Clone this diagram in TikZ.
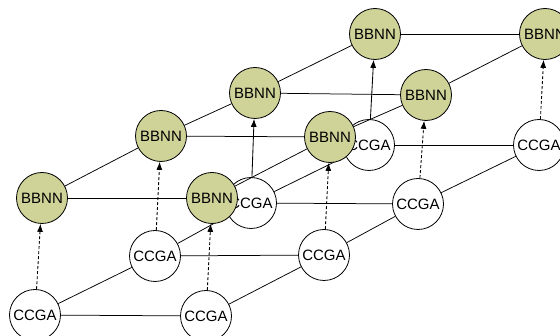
\documentclass[tikz,border=0pt]{standalone}
\usepackage{fontspec}
\setmainfont{Liberation Sans}
\usetikzlibrary{arrows.meta}
\definecolor{bbnnfill}{RGB}{208,211,152}
\pgfdeclarelayer{back}
\pgfdeclarelayer{mid}
\pgfsetlayers{back,mid,main}
\tikzset{
  unit/.style={circle, draw=black, line width=0.8pt, minimum size=51pt,
    inner sep=0pt, font=\fontsize{15}{17}\selectfont},
  ccga/.style={unit, fill=white},
  bbnn/.style={unit, fill=bbnnfill},
  link/.style={draw=black, line width=0.75pt},
  feed/.style={link, line width=0.85pt, -{Latex[length=8pt,width=6pt]}},
  feeddash/.style={feed, dash pattern=on 3pt off 2pt},
}
\begin{document}
\begin{tikzpicture}[x=1pt,y=-1pt]
\useasboundingbox (0,0) rectangle (560,336);
\clip (0,0) rectangle (560,336);

% upper layer of BBNN units
\node[bbnn] (b1) at (42,198) {BBNN};
\node[bbnn] (b2) at (212,198) {BBNN};
\node[bbnn] (b3) at (161,136) {BBNN};
\node[bbnn] (b4) at (330,137) {BBNN};
\node[bbnn] (b5) at (255,93) {BBNN};
\node[bbnn] (b6) at (426,95) {BBNN};
\node[bbnn] (b7) at (375,34) {BBNN};
\node[bbnn] (b8) at (545,34) {BBNN};

% lower layer of CCGA units
\begin{pgfonlayer}{back}
\node[ccga] (c1) at (35,315) {CCGA};
\node[ccga] (c2) at (206,316) {CCGA};
\node[ccga] (c3) at (155,256) {CCGA};
\node[ccga] (c4) at (324,255) {CCGA};
\node[ccga] (c5) at (251,203) {CCGA};
\node[ccga] (c6) at (418,204) {CCGA};
\node[ccga] (c7) at (369,145) {CCGA};
\node[ccga] (c8) at (539,145) {CCGA};
\end{pgfonlayer}

\begin{pgfonlayer}{mid}
% CCGA grid
\draw[link] (c1) -- (c2);
\draw[link] (c3) -- (c4);
\draw[link] (c5) -- (c6);
\draw[link] (c7) -- (c8);
\draw[link] (c1) -- (c3);
\draw[link] (c3) -- (c5);
\draw[link] (c5) -- (c7);
\draw[link] (c2) -- (c4);
\draw[link] (c4) -- (c6);
\draw[link] (c6) -- (c8);
% BBNN grid
\draw[link] (b1) -- (b2);
\draw[link] (b3) -- (b4);
\draw[link] (b5) -- (b6);
\draw[link] (b7) -- (b8);
\draw[link] (b1) -- (b3);
\draw[link] (b3) -- (b5);
\draw[link] (b5) -- (b7);
\draw[link] (b2) -- (b4);
\draw[link] (b4) -- (b6);
\draw[link] (b6) -- (b8);
% CCGA to BBNN
\draw[feeddash] (c1) -- (b1);
\draw[feeddash] (c2) -- (b2);
\draw[feeddash] (c3) -- (b3);
\draw[feeddash] (c4) -- (b4);
\draw[feed] (c5) -- (b5);
\draw[feeddash] (c6) -- (b6);
\draw[feed] (c7) -- (b7);
\draw[feeddash] (c8) -- (b8);
\end{pgfonlayer}
\end{tikzpicture}
\end{document}
